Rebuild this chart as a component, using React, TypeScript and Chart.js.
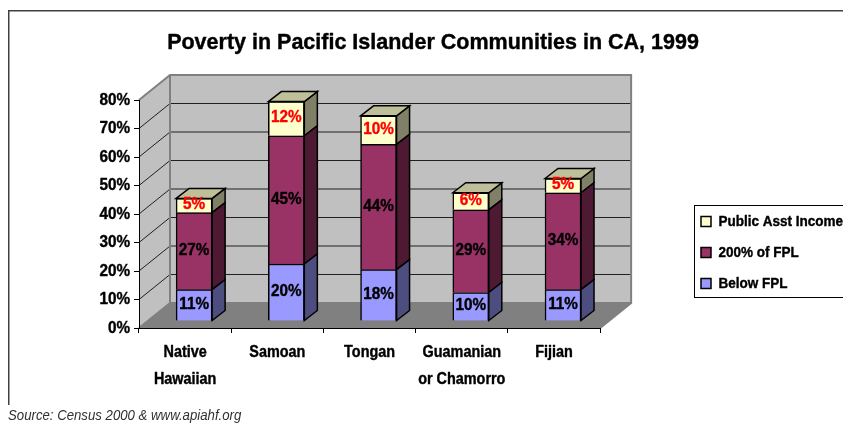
import React, { useEffect, useRef } from "react";
import { Chart, registerables } from "chart.js";

Chart.register(...registerables);

const categories = [["Native", "Hawaiian"], "Samoan", "Tongan", ["Guamanian", "or Chamorro"], "Fijian"];
const belowFpl = [11, 20, 18, 10, 11];
const fpl200 = [27, 45, 44, 29, 34];
const publicAsst = [5, 12, 10, 6, 5];

const NARROW = "'Liberation Sans Narrow', 'Liberation Sans', sans-serif";
const WALL_DX = 31;
const WALL_DY = -25;
const BAR_DX = 9;
const BAR_DY = -7;
const DEPTH_X = 13;
const DEPTH_Y = -10;
const sideColors = ["#4D4D80", "#4D1933", "#808066"];
const topColor = "#BFBF99";

function poly(ctx: CanvasRenderingContext2D, pts: number[][], fill?: string, stroke?: string, lw = 1) {
  ctx.beginPath();
  pts.forEach((p, i) => (i ? ctx.lineTo(p[0], p[1]) : ctx.moveTo(p[0], p[1])));
  ctx.closePath();
  if (fill) {
    ctx.fillStyle = fill;
    ctx.fill();
  }
  if (stroke) {
    ctx.strokeStyle = stroke;
    ctx.lineWidth = lw;
    ctx.stroke();
  }
}

// No narrow face is installed, so narrow text is drawn with a horizontal squeeze,
// and bold text gets a hairline outline to reach the reference's heavier weight.
function tuneText(ctx: any) {
  const fill = ctx.fillText.bind(ctx);
  const stroke = ctx.strokeText.bind(ctx);
  ctx.fillText = (text: string, x: number, y: number) => {
    const f: string = ctx.font;
    const sx = !f.includes("Narrow") ? 1 : f.includes("italic") ? 0.88 : 0.9;
    ctx.save();
    ctx.translate(x, y);
    ctx.scale(sx, 1);
    fill(text, 0, 0);
    if (f.includes("bold") || f.includes("700")) {
      ctx.strokeStyle = ctx.fillStyle;
      ctx.lineWidth = 0.4;
      ctx.lineJoin = "round";
      stroke(text, 0, 0);
    }
    ctx.restore();
  };
}

const scenePlugin = {
  id: "scene3d",
  afterLayout(chart: any) {
    const t = chart.titleBlock;
    t.left = 23;
    t.right = 843;
    const l = chart.legend;
    l.left = 685;
    l.right = 843;
    l.top = 198;
    l.bottom = 400;
  },
  beforeDraw(chart: any) {
    const { ctx, chartArea: a, scales } = chart;
    const { left, right, top, bottom } = a;
    ctx.save();
    ctx.strokeStyle = "#404040";
    ctx.lineWidth = 1.5;
    ctx.beginPath();
    ctx.moveTo(8.75, 405);
    ctx.lineTo(8.75, 10.75);
    ctx.lineTo(843, 10.75);
    ctx.stroke();

    const bl = left + WALL_DX;
    const br = right + WALL_DX;
    const bt = top + WALL_DY;
    const bb = bottom + WALL_DY;
    poly(ctx, [[bl, bb], [br, bb], [right, bottom], [left, bottom]], "#808080");
    poly(ctx, [[left, top], [bl, bt], [bl, bb], [left, bottom]], "#C0C0C0");
    ctx.fillStyle = "#C0C0C0";
    ctx.fillRect(bl, bt, br - bl, bb - bt);

    scales.y.ticks.forEach((tick: any) => {
      if (tick.value === 0 || tick.value === scales.y.max) return;
      const y = scales.y.getPixelForValue(tick.value);
      ctx.strokeStyle = "#202020";
      ctx.lineWidth = 1;
      ctx.beginPath();
      ctx.moveTo(left, y);
      ctx.lineTo(bl, y + WALL_DY);
      ctx.lineTo(br, y + WALL_DY);
      ctx.stroke();
    });

    ctx.strokeStyle = "#808080";
    ctx.lineWidth = 2;
    ctx.beginPath();
    ctx.moveTo(left, top);
    ctx.lineTo(bl, bt);
    ctx.lineTo(br, bt);
    ctx.lineTo(br, bb);
    ctx.lineTo(right, bottom);
    ctx.moveTo(bl, bt);
    ctx.lineTo(bl, bb);
    ctx.lineTo(left, bottom);
    ctx.moveTo(bl, bb);
    ctx.lineTo(br, bb);
    ctx.stroke();
    ctx.restore();
  },
  beforeDatasetDraw(chart: any) {
    chart.ctx.save();
    chart.ctx.translate(BAR_DX, BAR_DY);
  },
  afterDatasetDraw(chart: any, args: any) {
    const { ctx } = chart;
    const i = args.index;
    chart.getDatasetMeta(i).data.forEach((bar: any) => {
      const { x, y, base, width } = bar.getProps(["x", "y", "base", "width"], true);
      const r = x + width / 2;
      const l = x - width / 2;
      poly(ctx, [[r, y], [r + DEPTH_X, y + DEPTH_Y], [r + DEPTH_X, base + DEPTH_Y], [r, base]], sideColors[i], "#000", 1.5);
      if (i === chart.data.datasets.length - 1) {
        poly(ctx, [[l, y], [l + DEPTH_X, y + DEPTH_Y], [r + DEPTH_X, y + DEPTH_Y], [r, y]], topColor, "#000", 1.5);
      }
    });
    ctx.restore();
  },
  afterDatasetsDraw(chart: any) {
    const { ctx } = chart;
    ctx.save();
    ctx.translate(BAR_DX, BAR_DY);
    ctx.textAlign = "center";
    ctx.textBaseline = "middle";
    ctx.font = `bold 17px ${NARROW}`;
    chart.data.datasets.forEach((ds: any, i: number) => {
      chart.getDatasetMeta(i).data.forEach((bar: any, j: number) => {
        const { x, y, base } = bar.getProps(["x", "y", "base"], true);
        ctx.fillStyle = ds.labelColor;
        ctx.fillText(`${ds.data[j]}%`, x, (y + base) / 2 - 1);
      });
    });
    ctx.restore();
  },
  afterDraw(chart: any) {
    const { ctx } = chart;
    ctx.save();
    ctx.strokeStyle = "#000";
    ctx.lineWidth = 1;
    ctx.strokeRect(694.5, 205.5, 160, 92);
    ctx.fillStyle = "#303030";
    ctx.font = `italic 15px ${NARROW}`;
    ctx.textAlign = "left";
    ctx.textBaseline = "middle";
    ctx.fillText("Source: Census 2000 & www.apiahf.org", 8, 416);
    ctx.restore();
  },
};

export default function App() {
  const ref = useRef<HTMLCanvasElement>(null);
  useEffect(() => {
    tuneText(ref.current!.getContext("2d"));
    const chart = new Chart(ref.current!, {
      type: "bar",
      data: {
        labels: categories as any,
        datasets: [
          { label: "Below FPL", data: belowFpl, backgroundColor: "#9999FF", labelColor: "#000" },
          { label: "200% of FPL", data: fpl200, backgroundColor: "#993366", labelColor: "#000" },
          { label: "Public Asst Income", data: publicAsst, backgroundColor: "#FFFFCC", labelColor: "#FF0000" },
        ].map((d) => ({ ...d, borderColor: "#000", borderWidth: 1.5, barThickness: 36, clip: false })) as any,
      },
      options: {
        responsive: false,
        animation: false,
        devicePixelRatio: 1,
        layout: { padding: { left: 0, right: 61, top: 0, bottom: 0 } },
        plugins: {
          title: {
            display: true,
            text: "Poverty in Pacific Islander Communities in CA, 1999",
            color: "#000",
            font: { family: "'Liberation Sans', sans-serif", size: 21.5, weight: "bold" },
            padding: { top: 30.5, bottom: 43.7 },
          },
          legend: {
            display: true,
            position: "right",
            align: "start",
            reverse: true,
            labels: {
              boxWidth: 10,
              boxHeight: 10,
              padding: 16,
              color: "#000",
              font: { family: NARROW, size: 15, weight: "bold" },
            },
          },
          tooltip: { enabled: false },
        },
        scales: {
          x: {
            stacked: true,
            afterFit: (s: any) => {
              s.height = 96;
            },
            border: { display: true, color: "#000", width: 1 },
            grid: { display: true, drawOnChartArea: false, drawTicks: true, tickLength: 5, color: "#000" },
            ticks: {
              color: "#000",
              maxRotation: 0,
              autoSkip: false,
              padding: 6,
              font: { family: NARROW, size: 16, weight: "bold", lineHeight: "27px" },
            },
          },
          y: {
            stacked: true,
            min: 0,
            max: 80,
            afterFit: (s: any) => {
              s.width = 139;
            },
            border: { display: true, color: "#000", width: 1 },
            grid: { display: true, drawOnChartArea: false, drawTicks: true, tickLength: 5, color: "#000" },
            ticks: {
              stepSize: 10,
              color: "#000",
              padding: 4,
              font: { family: NARROW, size: 17, weight: "bold" },
              callback: (v: any) => `${v}%`,
            },
          },
        },
      } as any,
      plugins: [scenePlugin],
    });
    return () => chart.destroy();
  }, []);
  return (
    <div style={{ position: "absolute", left: 0, top: 0, width: 843, height: 424, overflow: "hidden", background: "#fff" }}>
      <canvas ref={ref} width={843} height={424} style={{ display: "block" }} />
    </div>
  );
}
